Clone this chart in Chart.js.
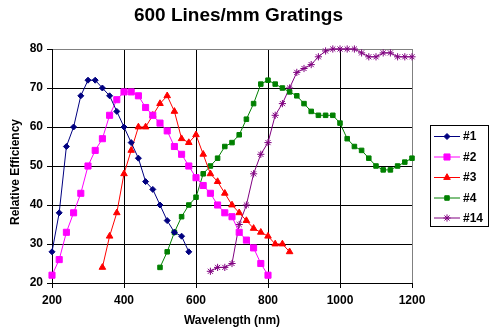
<!DOCTYPE html>
<html>
<head>
<meta charset="utf-8">
<script src="https://cdn.jsdelivr.net/npm/chart.js@4/dist/chart.umd.min.js"></script>
<style>
  html, body { margin: 0; padding: 0; background: #ffffff; }
  #wrap { width: 495px; height: 335px; position: relative; }
</style>
</head>
<body>
<div id="wrap"><canvas id="c" width="495" height="335"></canvas></div>
<script>
const chartTitle = "600 Lines/mm Gratings";
const xTitle = "Wavelength (nm)";
const yTitle = "Relative Efficiency";
const seriesNames = ["#1", "#2", "#3", "#4", "#14"];
const xTicks = [200, 400, 600, 800, 1000, 1200];
const yTicks = [20, 30, 40, 50, 60, 70, 80];

const wl1 = [200,220,240,260,280,300,320,340,360,380,400,420,440,460,480,500,520,540,560,580];
const eff1 = [28,38,55,60,68,72,72,70,68,64,60,56,52,46,44,40,36,33,32,28];

const wl2 = [200,220,240,260,280,300,320,340,360,380,400,420,440,460,480,500,520,540,560,580,600,620,640,660,680,700,720,740,760,780,800];
const eff2 = [22,26,33,38,43,50,54,57,63,67,69,69,68,65,63,61,59,55,53,50,47,45,43,40,38,37,33,31,29,25,22];

const wl3 = [340,360,380,400,420,440,460,480,500,520,540,560,580,600,620,640,660,680,700,720,740,760,780,800,820,840,860];
const eff3 = [24,32,38,48,54,60,60,63,66,68,64,57,56,58,53,48,46,43,40,38,36,34,33,32,30,30,28];

const wl4 = [500,520,540,560,580,600,620,640,660,680,700,720,740,760,780,800,820,840,860,880,900,920,940,960,980,1000,1020,1040,1060,1080,1100,1120,1140,1160,1180,1200];
const eff4 = [24,28,33,37,40,42,48,50,52,55,56,58,62,66,71,72,71,70,69,68,66,64,63,63,63,61,57,55,54,52,50,49,49,50,51,52];

const wl14 = [640,660,680,700,720,740,760,780,800,820,840,860,880,900,920,940,960,980,1000,1020,1040,1060,1080,1100,1120,1140,1160,1180,1200];
const eff14 = [23,24,24,25,35,40,48,53,56,63,66,70,74,75,76,78,79.5,80,80,80,80,79,78,78,79,79,78,78,78];

const colors = ["#000080", "#FF00FF", "#FF0000", "#008000", "#800080"];
const pStyles = ["rectRot", "rect", "triangle", "rect", "star"];
const pRadius = [3, 4.3, 3.8, 3.2, 3.6];

const FONT = "'Liberation Sans', Arial, Helvetica, sans-serif";

function pts(xs, ys) { return xs.map((x, i) => ({ x: x, y: ys[i] })); }
const allX = [wl1, wl2, wl3, wl4, wl14];
const allY = [eff1, eff2, eff3, eff4, eff14];

const datasets = seriesNames.map((name, i) => ({
  label: name,
  data: pts(allX[i], allY[i]),
  borderColor: colors[i],
  backgroundColor: colors[i],
  borderWidth: 1,
  pointStyle: pStyles[i],
  pointRadius: pRadius[i],
  pointBorderWidth: 1,
  pointBackgroundColor: colors[i],
  pointBorderColor: colors[i],
  tension: 0,
  fill: false,
  clip: false
}));

const overlayPlugin = {
  id: 'overlay',
  afterDraw(chart) {
    const ctx = chart.ctx;
    ctx.save();
    // Title
    ctx.fillStyle = '#000';
    ctx.font = "bold 19px " + FONT;
    ctx.textAlign = 'center';
    ctx.textBaseline = 'middle';
    ctx.fillText(chartTitle, 238.5, 16);
    // Y title
    ctx.save();
    ctx.translate(16, 172);
    ctx.rotate(-Math.PI / 2);
    ctx.font = "bold 12px " + FONT;
    ctx.fillText(yTitle, 0, 0);
    ctx.restore();
    // Legend box
    const bx = 430.5, by = 125.5, bw = 58, bh = 101;
    ctx.strokeStyle = '#000';
    ctx.lineWidth = 1;
    ctx.strokeRect(bx, by, bw, bh);
    const rowY = [136, 156.5, 177, 197.5, 217.5];
    seriesNames.forEach((name, i) => {
      const y = rowY[i];
      ctx.strokeStyle = colors[i];
      ctx.lineWidth = 1;
      ctx.beginPath();
      ctx.moveTo(434, y + 0.5);
      ctx.lineTo(460, y + 0.5);
      ctx.stroke();
      ctx.fillStyle = colors[i];
      ctx.strokeStyle = colors[i];
      Chart.helpers.drawPoint(ctx, { pointStyle: pStyles[i], radius: pRadius[i], borderWidth: 1, rotation: 0 }, 447, y + 0.5);
      ctx.fillStyle = '#000';
      ctx.font = "bold 12px " + FONT;
      ctx.textAlign = 'left';
      ctx.textBaseline = 'middle';
      ctx.fillText(name, 463, y + 1);
    });
    ctx.restore();
  }
};

new Chart(document.getElementById('c'), {
  type: 'line',
  data: { datasets: datasets },
  options: {
    responsive: false,
    animation: false,
    devicePixelRatio: 1,
    layout: { padding: { top: 49, bottom: 0, left: 0, right: 83 } },
    plugins: {
      legend: { display: false },
      title: { display: false },
      tooltip: { enabled: false }
    },
    scales: {
      x: {
        type: 'linear',
        min: 200, max: 1200,
        afterFit(s) { s.height = 52; },
        afterBuildTicks(s) { s.ticks = xTicks.map(v => ({ value: v })); },
        ticks: {
          color: '#000',
          padding: 5,
          font: { family: FONT, size: 12, weight: 'bold' },
          maxRotation: 0,
          callback: (v) => String(v)
        },
        grid: {
          color: (c) => (c.tick && c.tick.value === 1200) ? '#808080' : '#000000',
          tickColor: '#000000',
          tickLength: 5,
          lineWidth: 1
        },
        border: { color: '#000000', width: 1 },
        title: {
          display: true,
          text: xTitle,
          color: '#000',
          font: { family: FONT, size: 12, weight: 'bold', lineHeight: 1.2 },
          padding: { top: 0, bottom: 7 }
        }
      },
      y: {
        type: 'linear',
        min: 20, max: 80,
        afterFit(s) { s.width = 52; },
        afterBuildTicks(s) { s.ticks = yTicks.map(v => ({ value: v })); },
        ticks: {
          color: '#000',
          padding: 4,
          font: { family: FONT, size: 12, weight: 'bold' },
          callback: (v) => String(v)
        },
        grid: {
          color: (c) => (c.tick && c.tick.value === 80) ? '#808080' : '#000000',
          tickColor: '#000000',
          tickLength: 5,
          lineWidth: 1
        },
        border: { color: '#000000', width: 1 }
      }
    }
  },
  plugins: [overlayPlugin]
});
</script>
</body>
</html>
